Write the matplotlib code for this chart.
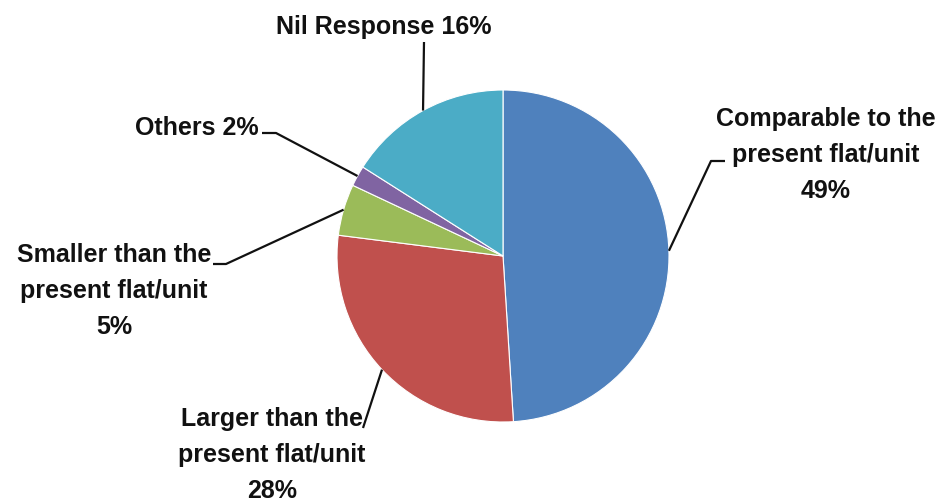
import numpy as np
import matplotlib.pyplot as plt

# survey answers, clockwise from 12 o'clock
labels = ["Comparable to the\npresent flat/unit",
          "Larger than the\npresent flat/unit",
          "Smaller than the\npresent flat/unit",
          "Others",
          "Nil Response"]
shares = [49, 28, 5, 2, 16]
colors = ["#4F81BD", "#C0504D", "#9BBB59", "#8064A2", "#4BACC6"]

W, H = 937, 504

fig = plt.figure(figsize=(W / 100, H / 100), dpi=100)
ax = fig.add_axes([0, 0, 1, 1])

cx, cy, r = 503, H - 256, 166
wedges, _ = ax.pie(shares, colors=colors, startangle=90, counterclock=False,
                   center=(cx, cy), radius=r, frame=True,
                   wedgeprops=dict(edgecolor="white", linewidth=0.8))
ax.set_xlim(0, W)
ax.set_ylim(0, H)
ax.set_aspect("equal")
ax.axis("off")

# text anchor, alignment and leader elbow (pixel coords, y measured from top)
layout = [
    dict(xy=(826, 155), ha="center", elbow=[(725, 161), (711, 161)]),
    dict(xy=(272, 455), ha="center", elbow=[(363, 428)]),
    dict(xy=(114, 291), ha="center", elbow=[(213, 264), (226, 264)]),
    dict(xy=(259, 128), ha="right", elbow=[(262, 133), (276, 133)]),
    dict(xy=(384, 27), ha="center", elbow=[(424, 42)]),
]

for w, lab, val, lo in zip(wedges, labels, shares, layout):
    if "\n" in lab:
        txt = f"{lab}\n{val}%"
    else:
        txt = f"{lab} {val}%"
    tx, ty = lo["xy"]
    ax.text(tx, H - ty, txt, ha=lo["ha"], va="center", fontsize=18,
            fontweight="bold", family="Liberation Sans", linespacing=1.63,
            color="#111111")
    mid = np.deg2rad((w.theta1 + w.theta2) / 2)
    px = cx + r * np.cos(mid)
    py = cy + r * np.sin(mid)
    xs = [p[0] for p in lo["elbow"]] + [px]
    ys = [H - p[1] for p in lo["elbow"]] + [py]
    ax.plot(xs, ys, color="#111111", linewidth=1.6, solid_capstyle="butt")

fig.savefig("out.png", dpi=100)
